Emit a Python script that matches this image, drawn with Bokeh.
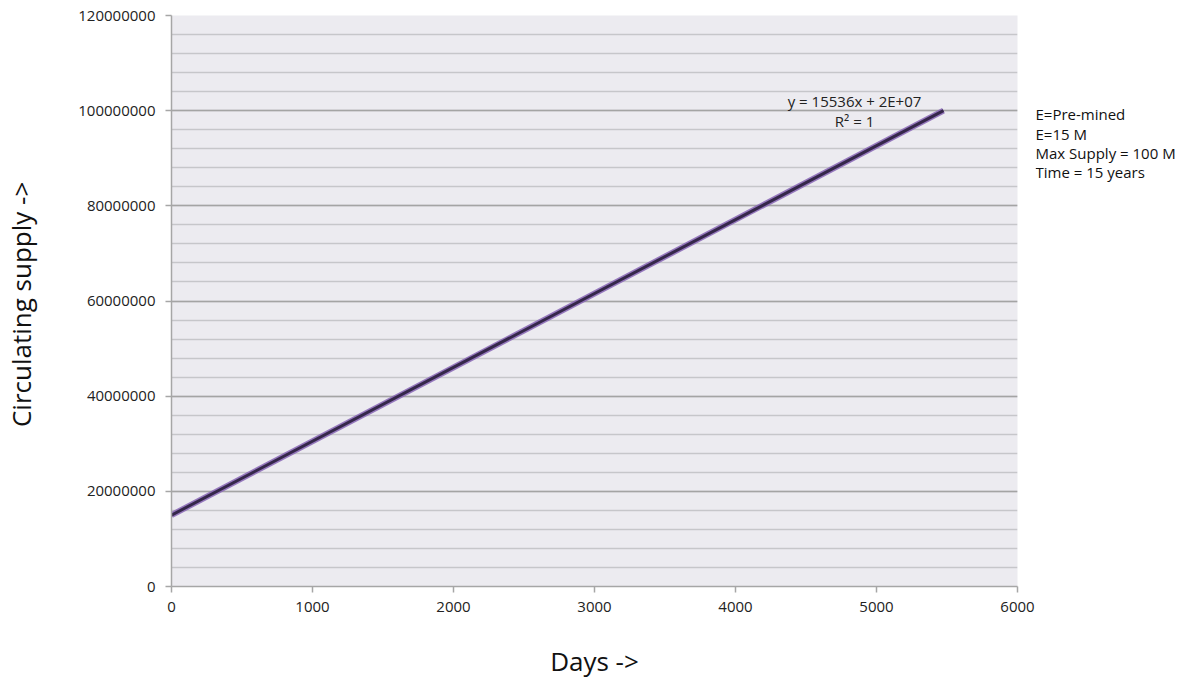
from bokeh.plotting import figure
from bokeh.layouts import row
from bokeh.models import Range1d, SingleIntervalTicker, BasicTickFormatter, Label, ColumnDataSource
from bokeh.embed import file_html
from bokeh.resources import INLINE

days = [0, 5475]
supply = [15000000, 100000000]
equation = "y = 15536x + 2E+07"
r2 = "R² = 1"
notes = ["E=Pre-mined", "E=15 M", "Max Supply  = 100 M", "Time = 15 years"]

FONT = "Open Sans"

p = figure(frame_width=846, frame_height=571, output_backend="svg", toolbar_location=None,
           x_range=Range1d(0, 6000), y_range=Range1d(0, 120000000),
           min_border_left=150, min_border_right=18, min_border_top=15, min_border_bottom=80)
p.background_fill_color = "#ECEBF0"
p.border_fill_color = "white"
p.outline_line_color = None

src = ColumnDataSource(dict(x=days, y=supply))
p.line("x", "y", source=src, line_width=6, line_color="#8664B4", line_alpha=0.85)
p.line("x", "y", source=src, line_width=3, line_color="#35274A")

p.xaxis.ticker = SingleIntervalTicker(interval=1000, num_minor_ticks=0)
p.yaxis.ticker = SingleIntervalTicker(interval=20000000, num_minor_ticks=5)
p.yaxis.formatter = BasicTickFormatter(use_scientific=False)
for ax in (p.xaxis[0], p.yaxis[0]):
    ax.axis_line_color = "#A6A6A6"
    ax.axis_line_width = 1.5
    ax.major_tick_line_color = "#A6A6A6"
    ax.major_tick_line_width = 1.5
    ax.major_tick_in = 0
    ax.major_tick_out = 6
    ax.minor_tick_line_color = None
    ax.major_label_text_font = FONT
    ax.major_label_text_font_size = "15px"
    ax.major_label_text_color = "#222222"
    ax.axis_label_text_font = FONT
    ax.axis_label_text_font_size = "26px"
    ax.axis_label_text_font_style = "normal"
    ax.axis_label_text_color = "#111111"

p.xaxis.axis_label = "Days ->"
p.yaxis.axis_label = "Circulating  supply ->"
p.xaxis.major_label_standoff = 9
p.yaxis.major_label_standoff = 10
p.xaxis.axis_label_standoff = 28
p.yaxis.axis_label_standoff = 36

p.xgrid.grid_line_color = None
p.ygrid.grid_line_color = "#A4A4A4"
p.ygrid.grid_line_width = 1.6
p.ygrid.minor_grid_line_color = "#C6C6CA"
p.ygrid.minor_grid_line_width = 1.3

p.add_layout(Label(x=4844, y=102100000, text=equation, text_font=FONT, text_font_size="15px",
                   text_align="center", text_baseline="middle", text_color="#222222"))
p.add_layout(Label(x=4844, y=97900000, text=r2, text_font=FONT, text_font_size="15px",
                   text_align="center", text_baseline="middle", text_color="#222222"))

# side panel for the notes, sharing the vertical scale
q = figure(frame_width=157, frame_height=571, output_backend="svg", toolbar_location=None,
           x_range=Range1d(0, 157), y_range=p.y_range,
           min_border_left=0, min_border_right=0, min_border_top=15, min_border_bottom=80)
q.axis.visible = False
q.grid.visible = False
q.outline_line_color = None
q.background_fill_color = "white"
q.border_fill_color = "white"
note_y = [99200000, 95200000, 91200000, 87200000]
for t, yy in zip(notes, note_y):
    q.add_layout(Label(x=0, y=yy, text=t, text_font=FONT, text_font_size="15px",
                       text_align="left", text_baseline="middle", text_color="#111111"))

layout = row(p, q, spacing=0)
open("out.html", "w").write(file_html(layout, INLINE))
